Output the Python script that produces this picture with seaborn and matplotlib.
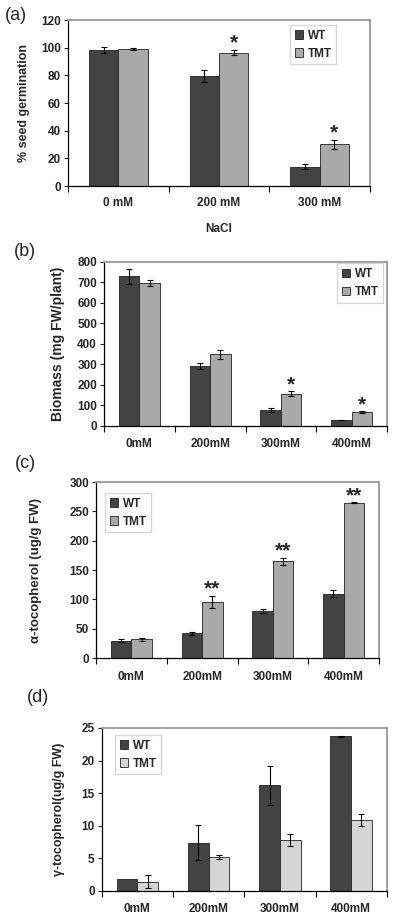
import pandas as pd
import matplotlib.pyplot as plt
import seaborn as sns
from matplotlib.patches import Patch
from matplotlib.ticker import FixedLocator

# Kategorie i dane
cats_a = ["0 mM", "200 mM", "300 mM"]
cats = ["0mM", "200mM", "300mM", "400mM"]
genotypes = ["WT", "TMT"]

germ_wt = [98.3, 79.5, 14.0]
germ_wt_err = [2.2, 4.5, 2.0]
germ_tmt = [99.2, 96.4, 30.1]
germ_tmt_err = [0.8, 2.0, 3.5]

bio_wt = [728, 291, 77, 28]
bio_wt_err = [38, 16, 8, 2]
bio_tmt = [695, 348, 155, 66]
bio_tmt_err = [14, 22, 12, 4]

alpha_wt = [29.5, 42, 80.5, 109.7]
alpha_wt_err = [3, 2, 3, 6]
alpha_tmt = [31.8, 96, 165, 264.5]
alpha_tmt_err = [2, 10, 6, 1]

gamma_wt = [1.9, 7.4, 16.2, 23.7]
gamma_wt_err = [0.0, 2.65, 3.0, 0.1]
gamma_tmt = [1.4, 5.25, 7.8, 10.9]
gamma_tmt_err = [1.0, 0.3, 0.95, 0.95]

sig_a = ["", "*", "*"]
sig_b = ["", "", "*", "*"]
sig_c = ["", "**", "**", "**"]
sig_d = ["", "", "", ""]

DARK = "#434343"
MID = "#a9a9a9"
LIGHT = "#d4d4d4"

sns.set_style("white")
plt.rcParams["font.family"] = ["Liberation Sans", "DejaVu Sans"]

fig = plt.figure(figsize=(4.0, 9.19), dpi=100)


def panel(rect, categories, wt, wt_err, tmt, tmt_err, sig, ymax, ystep, ylabel,
          ylab_x, tmt_color, leg_anchor, ylab_size=8.5):
    ax = fig.add_axes(rect)
    df = pd.DataFrame({
        "cat": categories * 2,
        "geno": ["WT"] * len(categories) + ["TMT"] * len(categories),
        "val": list(wt) + list(tmt),
    })
    sns.barplot(data=df, x="cat", y="val", hue="geno", order=categories,
                hue_order=genotypes, palette=[DARK, tmt_color], width=0.58,
                gap=0, errorbar=None, edgecolor="#222222", linewidth=0.6,
                saturation=1, legend=False, ax=ax)
    errs = [wt_err, tmt_err]
    bar_conts = list(ax.containers)
    for i, cont in enumerate(bar_conts):
        for j, bar in enumerate(cont):
            xc = bar.get_x() + bar.get_width() / 2
            h = bar.get_height()
            e = errs[i][j]
            if e > 0:
                ax.errorbar(xc, h, yerr=e, fmt="none", ecolor="black",
                            elinewidth=0.8, capsize=2.5, capthick=0.8)
            if i == 1 and sig[j]:
                ax.annotate(sig[j], (xc, h + e), xytext=(0, -2),
                            textcoords="offset points", ha="center",
                            va="bottom", fontsize=15, fontweight="bold")
    n = len(categories)
    ax.set_xlim(-0.5, n - 0.5)
    ax.set_ylim(0, ymax)
    ax.set_yticks(range(0, ymax + 1, ystep))
    ax.xaxis.set_minor_locator(FixedLocator([k - 0.5 for k in range(n + 1)]))
    ax.tick_params(axis="x", which="major", length=0, pad=9, labelsize=8.5)
    ax.tick_params(axis="x", which="minor", length=4, width=0.8,
                   direction="out", bottom=True, color="black")
    ax.tick_params(axis="y", length=3, width=0.8, direction="out",
                   left=True, labelsize=8.5, pad=2)
    for lab in ax.get_xticklabels() + ax.get_yticklabels():
        lab.set_fontweight("bold")
    ax.set_xlabel("")
    ax.set_ylabel(ylabel, fontsize=ylab_size, fontweight="bold")
    ax.yaxis.set_label_coords(ylab_x, 0.5)
    for s in ["top", "right"]:
        ax.spines[s].set_color("#999999")
        ax.spines[s].set_linewidth(1.3)
    for s in ["left", "bottom"]:
        ax.spines[s].set_color("black")
        ax.spines[s].set_linewidth(0.9)
    handles = [Patch(facecolor=DARK, edgecolor="#222222", linewidth=0.6),
               Patch(facecolor=tmt_color, edgecolor="#222222", linewidth=0.6)]
    ax.legend(handles, genotypes, loc="upper left", bbox_to_anchor=leg_anchor,
              frameon=True, fancybox=False, edgecolor="#cccccc",
              prop={"weight": "bold", "size": 8.5}, handlelength=0.7,
              handleheight=0.7, handletextpad=0.4, borderpad=0.4,
              labelspacing=0.5, borderaxespad=0)
    return ax


ax_a = panel([0.17, 0.7976, 0.755, 0.1806], cats_a, germ_wt, germ_wt_err,
             germ_tmt, germ_tmt_err, sig_a, 120, 20, "% seed germination",
             -0.126, MID, (0.735, 0.97), ylab_size=9)
ax_b = panel([0.26, 0.5368, 0.7075, 0.1785], cats, bio_wt, bio_wt_err,
             bio_tmt, bio_tmt_err, sig_b, 800, 100, "Biomass (mg FW/plant)",
             -0.138, MID, (0.823, 0.99), ylab_size=10)
ax_c = panel([0.24, 0.284, 0.7075, 0.1915], cats, alpha_wt, alpha_wt_err,
             alpha_tmt, alpha_tmt_err, sig_c, 300, 50, "α-tocopherol (ug/g FW)",
             -0.19, MID, (0.032, 0.9375), ylab_size=9.5)
ax_d = panel([0.254, 0.0305, 0.713, 0.1774], cats, gamma_wt, gamma_wt_err,
             gamma_tmt, gamma_tmt_err, sig_d, 25, 5, "γ-tocopherol(ug/g FW)",
             -0.129, LIGHT, (0.047, 0.957), ylab_size=9)

ax_a.tick_params(axis="x", which="major", pad=8)
ax_a.set_xlabel("NaCl", fontsize=8.5, fontweight="bold", labelpad=10)

for lab, (x, y) in zip(["(a)", "(b)", "(c)", "(d)"],
                       [(16, 16), (25, 252), (25, 463), (38, 698)]):
    fig.text(x / 400, 1 - y / 919, lab, fontsize=13, ha="center", va="center")

fig.savefig("out.png", dpi=100)
